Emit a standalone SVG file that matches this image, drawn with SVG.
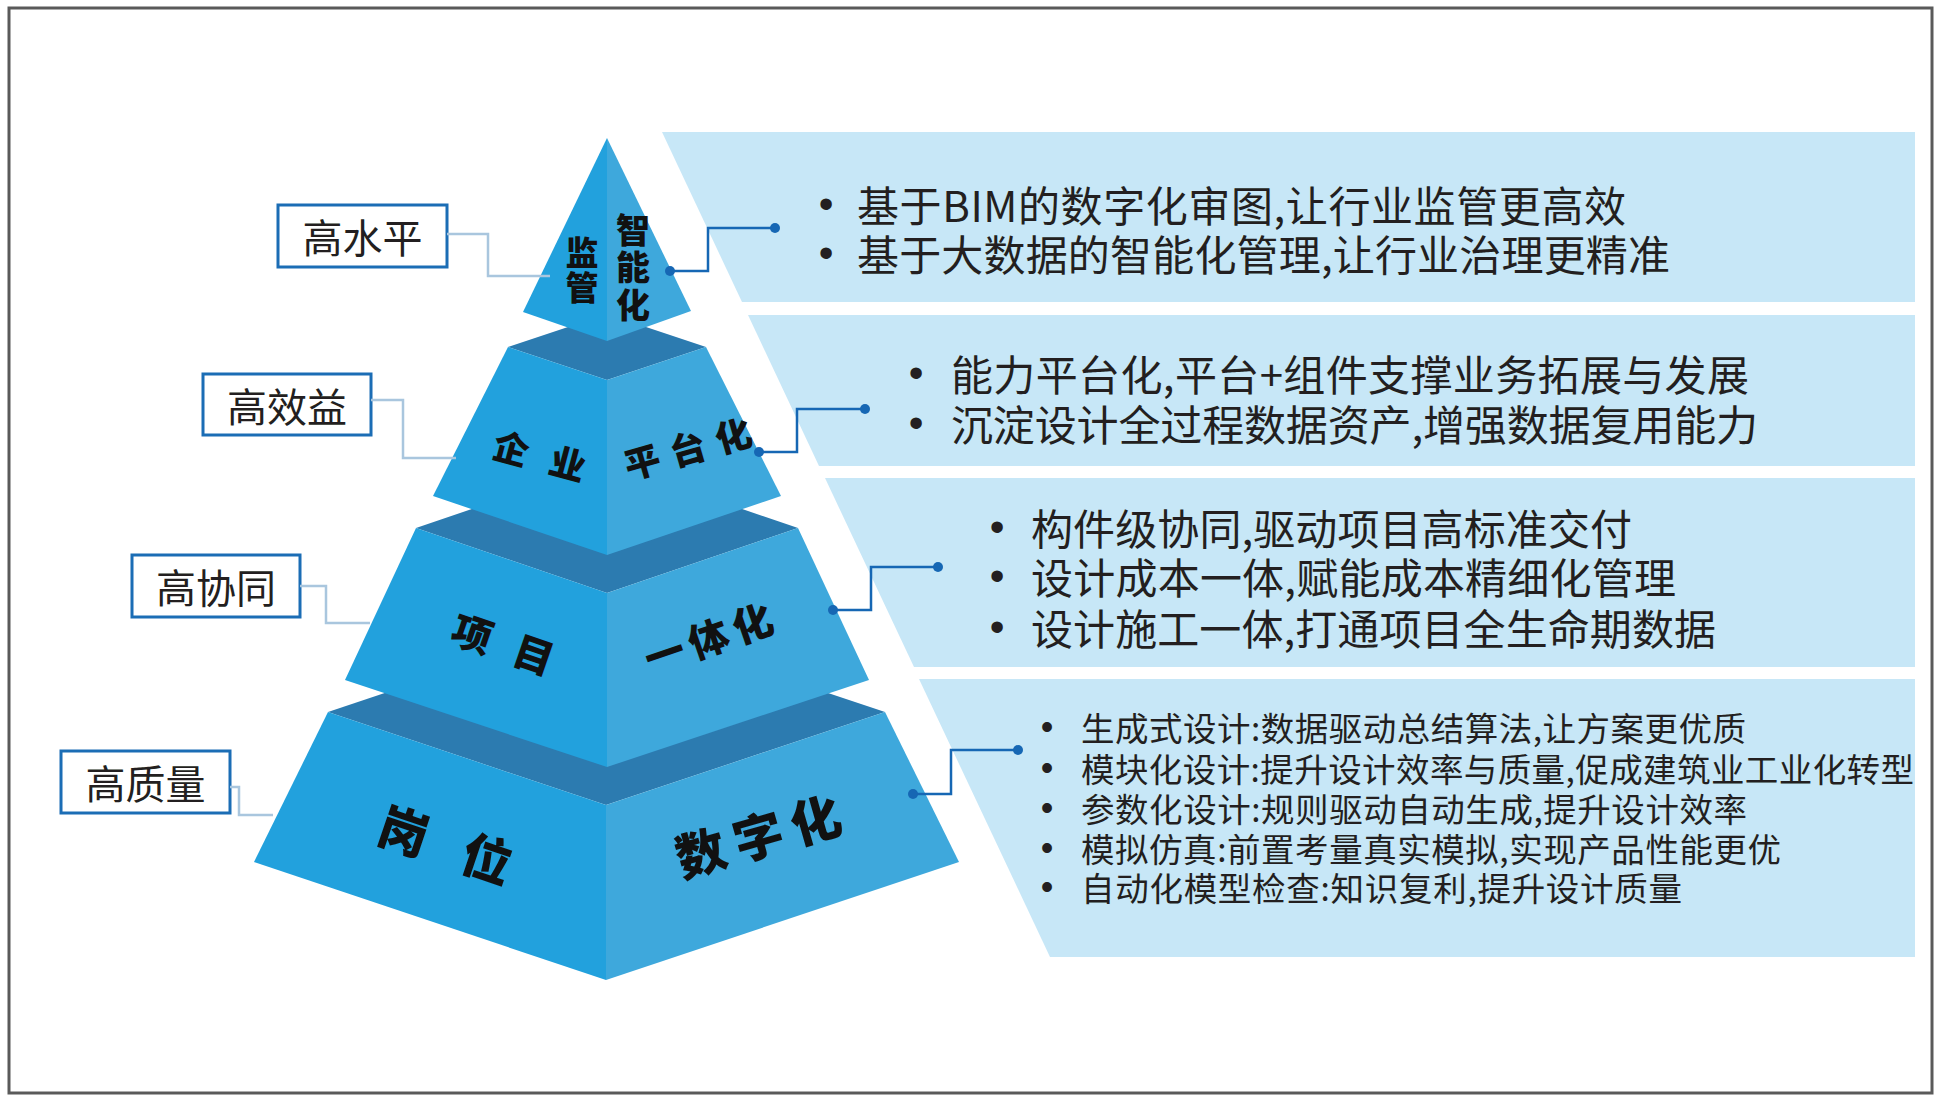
<svg xmlns="http://www.w3.org/2000/svg" width="1940" height="1105" viewBox="0 0 1940 1105">
<style>
.panel{fill:#c7e7f7}
.top{fill:#2c7bb0}
.lf{fill:#22a1dd}
.rf{fill:#3ea8dc}
.box{fill:#fff;stroke:#1b6db5;stroke-width:3}
.lbl{font-family:"Noto Sans CJK SC","Noto Sans",sans-serif;font-size:40px;fill:#231f20;text-anchor:middle;dominant-baseline:central}
.face{font-family:"Noto Sans CJK SC",sans-serif;font-weight:900;fill:#111;dominant-baseline:central}
.vert{writing-mode:vertical-rl;text-anchor:start}
.pt{font-family:"Noto Sans CJK SC","Noto Sans",sans-serif;fill:#231f20;dominant-baseline:central}
.big{font-size:42px}
.small{font-size:33.5px}
.bul{font-family:"Liberation Sans",Arial,sans-serif;fill:#231f20;text-anchor:middle;dominant-baseline:central}
.bb{font-size:42px}
.bs{font-size:36px}
.lc{fill:none;stroke:#a9c6de;stroke-width:2.5}
.rc{fill:none;stroke:#1667b4;stroke-width:2.5}
.dot{fill:#1667b4}
</style>
<rect x="9" y="8" width="1923" height="1085" fill="#fff" stroke="#5a5a5a" stroke-width="3"/>

<g id="panel1">
<polygon class="panel" points="662,132 1915,132 1915,302 742,302"/>
<text class="bul bb" x="826" y="203">•</text>
<text class="pt big" x="857" y="203" textLength="769" lengthAdjust="spacing">基于BIM的数字化审图,让行业监管更高效</text>
<text class="bul bb" x="826" y="252">•</text>
<text class="pt big" x="857" y="252" textLength="813" lengthAdjust="spacing">基于大数据的智能化管理,让行业治理更精准</text>
</g>
<g id="panel2">
<polygon class="panel" points="748,315 1915,315 1915,466 819,466"/>
<text class="bul bb" x="916" y="372">•</text>
<text class="pt big" x="951" y="372" textLength="798" lengthAdjust="spacing">能力平台化,平台+组件支撑业务拓展与发展</text>
<text class="bul bb" x="916" y="422">•</text>
<text class="pt big" x="951" y="422" textLength="807" lengthAdjust="spacing">沉淀设计全过程数据资产,增强数据复用能力</text>
</g>
<g id="panel3">
<polygon class="panel" points="825,478 1915,478 1915,667 914,667"/>
<text class="bul bb" x="997" y="526">•</text>
<text class="pt big" x="1031" y="526" textLength="601" lengthAdjust="spacing">构件级协同,驱动项目高标准交付</text>
<text class="bul bb" x="997" y="575">•</text>
<text class="pt big" x="1031" y="575" textLength="645" lengthAdjust="spacing">设计成本一体,赋能成本精细化管理</text>
<text class="bul bb" x="997" y="626">•</text>
<text class="pt big" x="1031" y="626" textLength="685" lengthAdjust="spacing">设计施工一体,打通项目全生命期数据</text>
</g>
<g id="panel4">
<polygon class="panel" points="919,679 1915,679 1915,957 1050,957"/>
<text class="bul bs" x="1047" y="726">•</text>
<text class="pt small" x="1081" y="726" textLength="665" lengthAdjust="spacing">生成式设计:数据驱动总结算法,让方案更优质</text>
<text class="bul bs" x="1047" y="767">•</text>
<text class="pt small" x="1081" y="767" textLength="833" lengthAdjust="spacing">模块化设计:提升设计效率与质量,促成建筑业工业化转型</text>
<text class="bul bs" x="1047" y="807">•</text>
<text class="pt small" x="1081" y="807" textLength="666" lengthAdjust="spacing">参数化设计:规则驱动自动生成,提升设计效率</text>
<text class="bul bs" x="1047" y="847">•</text>
<text class="pt small" x="1081" y="847" textLength="700" lengthAdjust="spacing">模拟仿真:前置考量真实模拟,实现产品性能更优</text>
<text class="bul bs" x="1047" y="886">•</text>
<text class="pt small" x="1081" y="886" textLength="601" lengthAdjust="spacing">自动化模型检查:知识复利,提升设计质量</text>
</g>

<g id="tier4">
<polygon class="top" points="328,712 606,619 885,712 606,805"/>
<polygon class="lf" points="328,712 606,805 606,980 254,862"/>
<polygon class="rf" points="606,805 885,712 959,862 606,980"/>
<text class="face" x="380" y="828" font-size="50" letter-spacing="37.6" transform="rotate(18.6 405 828)">岗位</text>
<text class="face" x="675" y="850" font-size="50" letter-spacing="9.7" transform="rotate(-16 700 850)">数字化</text>
</g>
<g id="tier3">
<polygon class="top" points="416,528 607,463 798,528 607,593"/>
<polygon class="lf" points="416,528 607,593 607,767 345,680"/>
<polygon class="rf" points="607,593 798,528 869,680 607,767"/>
<text class="face" x="453" y="632" font-size="40" letter-spacing="25" transform="rotate(19 473 632)">项目</text>
<text class="face" x="644" y="652" font-size="40" letter-spacing="6.5" transform="rotate(-19 664 652)">一体化</text>
</g>
<g id="tier2">
<polygon class="top" points="508,347 607,314 706,347 607,380"/>
<polygon class="lf" points="508,347 607,380 607,555 433,496"/>
<polygon class="rf" points="607,380 706,347 781,496 607,555"/>
<text class="face" x="493.7" y="446.3" font-size="36" letter-spacing="22.6" transform="rotate(15 511.7 446.3)">企业</text>
<text class="face" x="623.7" y="459.7" font-size="36" letter-spacing="11.3" transform="rotate(-16 641.7 459.7)">平台化</text>
</g>
<g id="tier1">
<polygon class="lf" points="607,138 607,341 523,312"/>
<polygon class="rf" points="607,138 691,311 607,341"/>
<text class="face vert" x="582" y="235.5" font-size="33" letter-spacing="2">监管</text>
<text class="face vert" x="633" y="213" font-size="34" letter-spacing="3.5">智能化</text>
</g>

<g id="label1"><rect class="box" x="278" y="205" width="169" height="62"/><text class="lbl" x="362.5" y="236">高水平</text></g>
<g id="label2"><rect class="box" x="203" y="374" width="168" height="61"/><text class="lbl" x="287" y="404.5">高效益</text></g>
<g id="label3"><rect class="box" x="132" y="555" width="168" height="62"/><text class="lbl" x="216" y="586">高协同</text></g>
<g id="label4"><rect class="box" x="61" y="751" width="169" height="62"/><text class="lbl" x="145.5" y="782">高质量</text></g>

<g id="connectors">
<polyline class="lc" points="447,234 488,234 488,276 550,276"/>
<polyline class="lc" points="371,400 403,400 403,458 456,458"/>
<polyline class="lc" points="300,586 326,586 326,623 370,623"/>
<polyline class="lc" points="230,787 239,787 239,815 273,815"/>
<polyline class="rc" points="670,271 708,271 708,228 775,228"/>
<circle class="dot" cx="670" cy="271" r="5"/><circle class="dot" cx="775" cy="228" r="5"/>
<polyline class="rc" points="759,452 797,452 797,409 865,409"/>
<circle class="dot" cx="759" cy="452" r="5"/><circle class="dot" cx="865" cy="409" r="5"/>
<polyline class="rc" points="833,610 871,610 871,567 938,567"/>
<circle class="dot" cx="833" cy="610" r="5"/><circle class="dot" cx="938" cy="567" r="5"/>
<polyline class="rc" points="913,794 951,794 951,750 1018,750"/>
<circle class="dot" cx="913" cy="794" r="5"/><circle class="dot" cx="1018" cy="750" r="5"/>
</g>
</svg>
